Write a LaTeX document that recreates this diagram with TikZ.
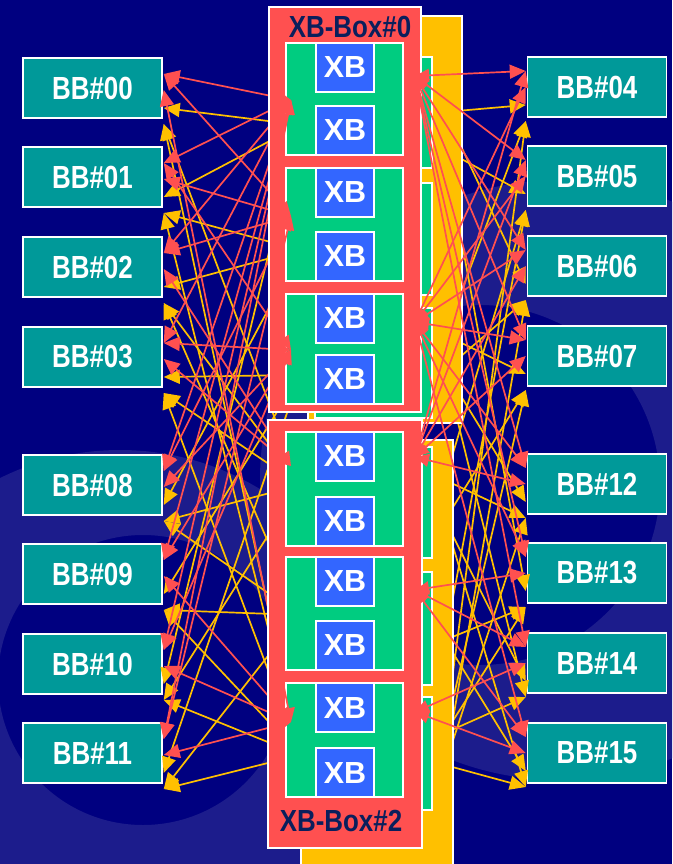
\documentclass[tikz,border=0pt]{standalone}
\usepackage{fontspec}
\setmainfont{Liberation Sans}
\usepackage{graphicx}
\usetikzlibrary{arrows.meta,calc}
\definecolor{bgnavy}{HTML}{000080}
\definecolor{swirl}{HTML}{1C1C8C}
\definecolor{boxred}{HTML}{FF5050}
\definecolor{boxyel}{HTML}{FFC000}
\definecolor{pgreen}{HTML}{00CC80}
\definecolor{xbblue}{HTML}{3366FF}
\definecolor{bbteal}{HTML}{009999}
\definecolor{lbl}{HTML}{0A1F5C}
\begin{document}
\begin{tikzpicture}[x=1pt,y=-1pt,
  bb/.style={draw=white, line width=1.5pt, fill=bbteal, minimum width=139pt, minimum height=60pt, inner sep=0pt, text=white, font=\fontsize{32}{32}\selectfont\bfseries},
  xb/.style={draw=white, line width=1.2pt, fill=xbblue, minimum width=58pt, minimum height=49pt, inner sep=0pt, text=white, font=\fontsize{30.5}{30.5}\selectfont\bfseries},
  ttl/.style={text=lbl, inner sep=0pt, font=\fontsize{30.5}{30.5}\selectfont\bfseries},
  wbord/.style={draw=white, line width=1.5pt},
  rl/.style={draw=boxred, line width=1.7pt, {Triangle[length=14pt,width=13pt]}-{Triangle[length=16pt,width=14pt]}},
  yl/.style={draw=boxyel, line width=1.7pt, -{Triangle[length=16pt,width=14pt]}}]
% background
\fill[bgnavy] (0,0) rectangle (672,864);
\useasboundingbox (0,0) rectangle (672,864);
\begin{scope}
  \clip (0,0) rectangle (672,864);
  \fill[swirl, even odd rule] (120,720) circle[radius=270] (143,680) circle[radius=145];
  \fill[swirl, even odd rule] (560,480) circle[radius=300] (480,485) circle[radius=180];
\end{scope}
% BB nodes
\node[bb] (bb00) at (92.5,88)  {\scalebox{0.81}[1]{BB\#00}};
\node[bb] (bb01) at (92.5,177) {\scalebox{0.81}[1]{BB\#01}};
\node[bb] (bb02) at (92.5,267) {\scalebox{0.81}[1]{BB\#02}};
\node[bb] (bb03) at (92.5,357) {\scalebox{0.81}[1]{BB\#03}};
\node[bb] (bb08) at (92.5,485) {\scalebox{0.81}[1]{BB\#08}};
\node[bb] (bb09) at (92.5,574) {\scalebox{0.81}[1]{BB\#09}};
\node[bb] (bb10) at (92.5,664) {\scalebox{0.81}[1]{BB\#10}};
\node[bb] (bb11) at (92.5,753) {\scalebox{0.81}[1]{BB\#11}};
\node[bb] (bb04) at (597,87)  {\scalebox{0.81}[1]{BB\#04}};
\node[bb] (bb05) at (597,176) {\scalebox{0.81}[1]{BB\#05}};
\node[bb] (bb06) at (597,266) {\scalebox{0.81}[1]{BB\#06}};
\node[bb] (bb07) at (597,356) {\scalebox{0.81}[1]{BB\#07}};
\node[bb] (bb12) at (597,484) {\scalebox{0.81}[1]{BB\#12}};
\node[bb] (bb13) at (597,573) {\scalebox{0.81}[1]{BB\#13}};
\node[bb] (bb14) at (597,663) {\scalebox{0.81}[1]{BB\#14}};
\node[bb] (bb15) at (597,753) {\scalebox{0.81}[1]{BB\#15}};
% arrow end points at the BB boxes
\foreach \n in {00,01,02,03,08,09,10,11}{
  \coordinate (bb\n-r1) at ($(bb\n.east)+(1,-14)$);
  \coordinate (bb\n-r2) at ($(bb\n.east)+(1,2)$);
  \coordinate (bb\n-y1) at ($(bb\n.east)+(1,20)$);
  \coordinate (bb\n-y2) at ($(bb\n.east)+(1,36)$);
}
\foreach \n in {04,05,06,07,12,13,14,15}{
  \coordinate (bb\n-r1) at ($(bb\n.west)+(-1,-16)$);
  \coordinate (bb\n-r2) at ($(bb\n.west)+(-1,0)$);
  \coordinate (bb\n-y1) at ($(bb\n.west)+(-1,18)$);
  \coordinate (bb\n-y2) at ($(bb\n.west)+(-1,34)$);
}
% connection points on the XB boxes
\coordinate (L0a) at (291,100); \coordinate (L0b) at (291,216); \coordinate (L0c) at (291,350);
\coordinate (L2a) at (291,466); \coordinate (L2c) at (291,722);
\coordinate (R0a) at (415,76);  \coordinate (R0c) at (415,322);
\coordinate (R2a) at (415,457); \coordinate (R2b) at (415,590); \coordinate (R2c) at (415,712);
\coordinate (Y1La) at (300,125); \coordinate (Y1Lb) at (300,250); \coordinate (Y1Lc) at (300,375);
\coordinate (Y3La) at (300,485); \coordinate (Y3Lb) at (300,615); \coordinate (Y3Lc) at (300,755);
\coordinate (Y1Ra) at (445,112); \coordinate (Y1Rb) at (445,150); \coordinate (Y1Rc) at (445,335); \coordinate (Y1Rd) at (445,370);
\coordinate (Y3Ra) at (445,480); \coordinate (Y3Rb) at (445,520); \coordinate (Y3Rc) at (445,640); \coordinate (Y3Rd) at (445,733); \coordinate (Y3Re) at (445,765);
% yellow links (behind the boxes)
\foreach \p/\q in {Y1La/bb00-y1, Y3La/bb00-y2, Y3Lc/bb00-y2,
                   Y1La/bb01-y1, Y1Lb/bb01-y2, Y3Lc/bb01-y2,
                   Y1Lb/bb02-y1, Y3Lb/bb02-y2, Y3La/bb02-y2,
                   Y1Lc/bb03-y1, Y3La/bb03-y2, Y3Lc/bb03-y2,
                   Y1Lb/bb08-y1, Y3La/bb08-y2, Y3Lb/bb08-y2,
                   Y1Lc/bb09-y1, Y3Lb/bb09-y2, Y3Lc/bb09-y2,
                   Y1La/bb10-y1, Y3Lc/bb10-y2, Y3La/bb10-y2,
                   Y1Lc/bb11-y1, Y3Lc/bb11-y2, Y3Lb/bb11-y2,
                   Y1Ra/bb04-y1, Y1Rc/bb04-y2, Y3Rd/bb04-y2,
                   Y1Rb/bb05-y1, Y3Ra/bb05-y2, Y3Rc/bb05-y2,
                   Y1Ra/bb06-y1, Y1Rd/bb06-y2, Y3Re/bb06-y2,
                   Y1Rc/bb07-y1, Y3Rb/bb07-y2, Y3Rd/bb07-y2,
                   Y1Rd/bb12-y1, Y3Ra/bb12-y2, Y3Re/bb12-y2,
                   Y1Rb/bb13-y1, Y3Rc/bb13-y2, Y3Rd/bb13-y2,
                   Y3Rb/bb14-y1, Y3Rd/bb14-y2, Y1Rd/bb14-y2,
                   Y3Rc/bb15-y1, Y3Re/bb15-y2, Y3Rb/bb15-y2}
  \draw[yl] (\p) -- (\q);
% XB-Box#1 and #3 (yellow, behind)
\draw[wbord, fill=boxyel] (308,16) rectangle (462,423);
\foreach \t/\b in {57/168,183/295,308/418}
  \draw[wbord, fill=pgreen] (315,\t) rectangle (432,\b);
\draw[wbord, fill=boxyel] (301,440) rectangle (453,880);
\foreach \t/\b in {447/558,572/685,697/810}
  \draw[wbord, fill=pgreen] (313,\t) rectangle (432,\b);
% XB-Box#0
\draw[wbord, fill=boxred] (269,7) rectangle (421,412);
\foreach \t/\b [count=\i] in {43/155,168/281,294/404}{
  \draw[wbord, fill=pgreen] (286,\t) rectangle (403,\b);
  \node[xb] (x0u\i) at (345,\t+24.5) {XB};
  \node[xb] (x0d\i) at (345,\b-24.5) {XB};
}
\node[ttl] (t0) at (350,27) {\scalebox{0.85}[1]{XB-Box\#0}};
% XB-Box#2
\draw[wbord, fill=boxred] (268,420) rectangle (422,848);
\foreach \t/\b [count=\i] in {432/546,557/670,683/797}{
  \draw[wbord, fill=pgreen] (286,\t) rectangle (403,\b);
  \node[xb] (x2u\i) at (345,\t+24.5) {XB};
  \node[xb] (x2d\i) at (345,\b-24.5) {XB};
}
\node[ttl] (t2) at (341,821) {\scalebox{0.85}[1]{XB-Box\#2}};
% red links
\foreach \p/\q in {L0a/bb00-r1, L2c/bb00-r2, L0b/bb00-r1,
                   L0a/bb01-r1, L0b/bb01-r2, L0c/bb01-r1,
                   L0b/bb02-r1, L2a/bb02-r2, L0a/bb02-r1,
                   L0c/bb03-r1, L2a/bb03-r2, L0a/bb03-r1,
                   L0a/bb08-r1, L0c/bb08-r2, L0b/bb08-r1,
                   L0c/bb09-r1, L2c/bb09-r2, L0a/bb09-r1,
                   L0a/bb10-r1, L2c/bb10-r2, L0c/bb10-r1,
                   L0b/bb11-r1, L2c/bb11-r2, L0a/bb11-r1,
                   R0a/bb04-r1, R0c/bb04-r2, R2a/bb04-r1,
                   R0a/bb05-r1, R0c/bb05-r2, R2a/bb05-r1,
                   R0a/bb06-r1, R2a/bb06-r2, R0c/bb06-r1,
                   R0c/bb07-r1, R2a/bb07-r2, R0a/bb07-r1,
                   R0a/bb12-r1, R2a/bb12-r2, R0c/bb12-r1,
                   R0c/bb13-r1, R2b/bb13-r2, R0a/bb13-r1,
                   R2b/bb14-r1, R2c/bb14-r2, R0a/bb14-r1,
                   R2b/bb15-r1, R2c/bb15-r2, R0c/bb15-r1}
  \draw[rl] (\p) -- (\q);
% restore the white left edges of the red boxes
\draw[white, line width=1.5pt] (269,7) -- (269,412);
\draw[white, line width=1.5pt] (268,420) -- (268,848);
\end{tikzpicture}
\end{document}
